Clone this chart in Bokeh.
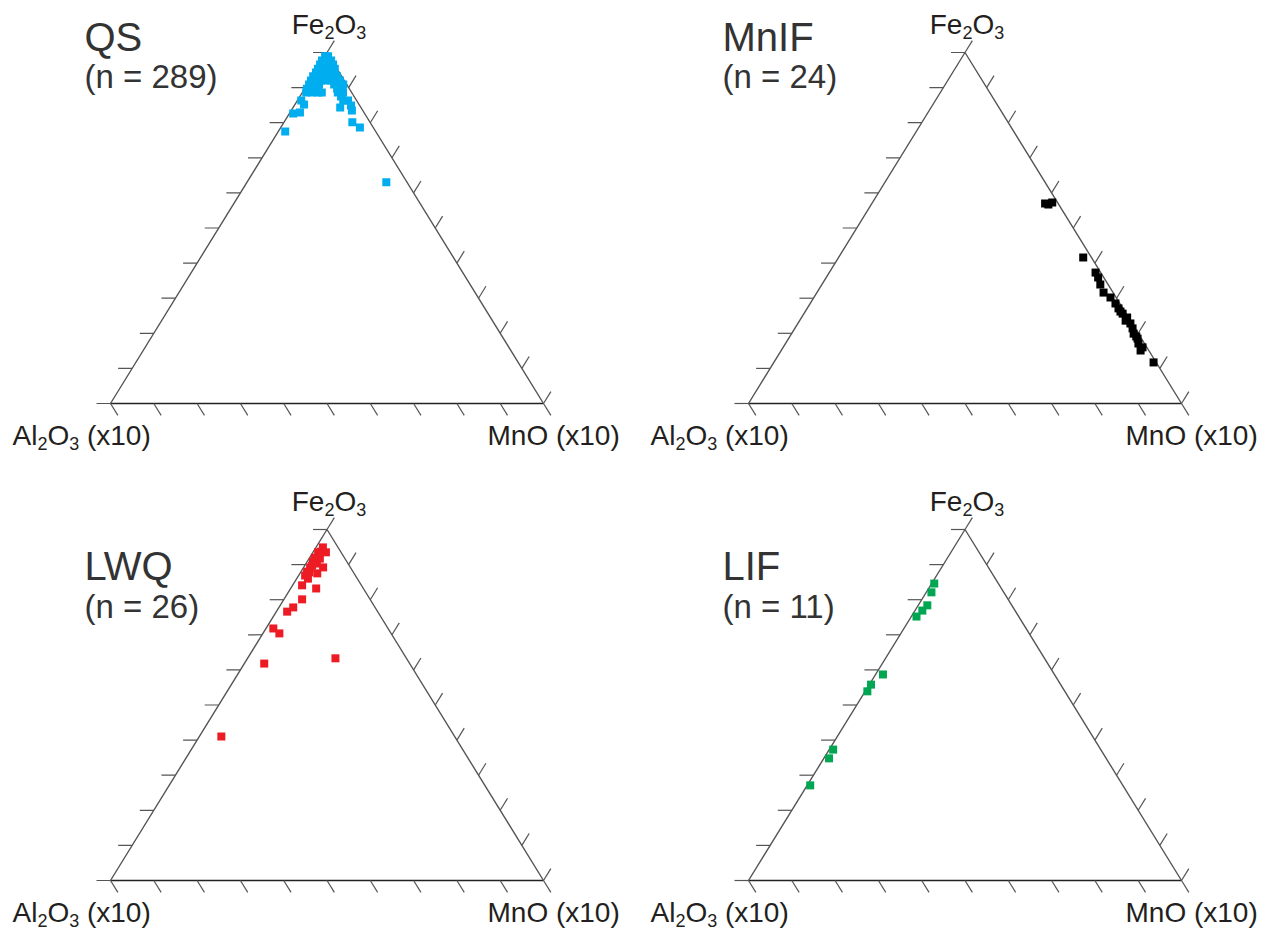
from bokeh.plotting import figure
from bokeh.models import Range1d
from bokeh.core.properties import value
from bokeh.embed import file_html
from bokeh.resources import INLINE

# ---- data: Fe2O3 % and MnO(x10) % ; Al2O3(x10) = 100 - Fe2O3 - MnO ----
qs_fe = [98.9, 98.9, 97.7, 97.7, 97.7, 96.6, 96.6, 96.6, 96.6,
         95.4, 95.4, 95.4, 95.4, 95.4, 94.3, 94.3, 94.3, 94.3, 94.3,
         93.2, 93.2, 93.2, 93.2, 93.2, 93.2,
         92.0, 92.0, 92.0, 92.0, 92.0, 92.0, 92.0,
         90.9, 90.9, 90.9, 90.9, 90.9, 90.9,
         89.7, 89.7, 89.7, 89.7, 89.7,
         88.6, 88.6, 88.6, 88.6, 88.6, 88.6,
         87.5, 86.3, 86.3, 86.3, 85.2, 84.3, 84.9, 83.5, 82.9, 82.6,
         80.1, 78.6, 77.5, 63.0]
qs_mn = [0.1, 0.8, 0.0, 1.1, 2.1, 0.1, 1.0, 2.2, 3.1,
         0.2, 1.4, 2.3, 3.2, 4.1, 0.3, 1.2, 2.4, 3.6, 4.5,
         0.2, 1.3, 2.5, 3.6, 4.8, 5.7,
         0.3, 1.5, 2.6, 3.8, 4.9, 6.1, 7.0,
         0.4, 1.6, 2.7, 6.2, 7.3, 8.3,
         0.5, 1.7, 3.1, 7.5, 8.6,
         0.9, 2.2, 3.6, 4.5, 8.2, 9.4,
         9.5, 0.9, 10.6, 11.7, 2.1, 10.9, 13.1, 14.0, 2.3, 0.9,
         15.8, 18.3, 1.6, 32.2]

mnif_fe = [57.0, 57.3, 56.7, 41.6, 37.3, 35.9, 33.9, 31.6, 30.2, 28.5, 27.1, 26.2,
           25.6, 24.5, 23.6, 22.8, 21.4, 19.9, 19.1, 18.5, 17.1, 16.0, 15.1, 11.7]
mnif_mn = [40.0, 41.5, 40.9, 56.5, 61.5, 62.8, 64.3, 66.2, 68.5, 70.5, 71.9, 72.8,
           73.6, 75.2, 75.3, 76.8, 78.0, 79.0, 80.0, 80.6, 81.5, 83.0, 83.0, 87.7]

lwq_fe = [94.9, 93.5, 92.0, 93.7, 90.9, 90.3, 89.2, 89.2, 88.0, 86.9, 86.0, 87.5, 84.1,
          83.2, 80.1, 77.8, 76.6, 71.8, 70.4, 61.8, 63.3, 41.0, 91.7, 89.7, 93.5, 87.8]
lwq_mn = [1.6, 1.2, 1.2, 1.8, 1.3, 2.5, 1.5, 4.5, 1.4, 1.5, 2.6, 4.0, 2.2,
          5.9, 4.2, 3.3, 2.5, 1.7, 3.8, 4.6, 20.3, 5.1, 2.5, 1.7, 3.0, 2.0]

lif_fe = [84.6, 82.1, 78.4, 76.9, 75.2, 58.7, 55.8, 53.9, 37.3, 34.8, 27.1]
lif_mn = [0.6, 1.2, 2.1, 1.7, 1.2, 1.7, 0.4, 0.5, 0.9, 1.2, 0.7]

groups = ["QS", "MnIF", "LWQ", "LIF"]
counts = ["(n = 289)", "(n = 24)", "(n = 26)", "(n = 11)"]
colors = ["#00AEEF", "#000000", "#ED1C24", "#00A651"]
ticks = [i / 10 for i in range(11)]

# ---- layout (page pixels) ----
W, H = 1270, 930
p = figure(width=W, height=H, x_range=Range1d(0, W), y_range=Range1d(H, 0),
           output_backend="svg", toolbar_location=None, min_border=0)
p.axis.visible = False
p.grid.visible = False
p.outline_line_color = None
p.background_fill_color = "white"

TW, TH = 433, 351          # triangle base width / height in px
origins = [(110, 403), (748, 403), (110, 880), (748, 880)]   # left vertex of each panel
title_y = [(48, 86), (48, 86), (577, 616), (577, 616)]
datasets = [(qs_fe, qs_mn), (mnif_fe, mnif_mn), (lwq_fe, lwq_mn), (lif_fe, lif_mn)]

FONT = value("Liberation Sans")
AR = {'F': .611, 'e': .556, 'A': .667, 'l': .222, 'O': .778, 'M': .833, 'n': .556,
      ' ': .278, '(': .333, 'x': .5, '1': .556, '0': .556, ')': .333, '2': .556, '3': .556}
MAIN, SUB = 28, 18
BCORR = 0.3   # baseline correction (fraction of font size)


def tw(s, size):
    return sum(AR[c] for c in s) * size


def txt(xs, ys, texts, size, color):
    p.text(x=xs, y=[y - BCORR * size for y in ys], text=texts, text_font=FONT,
           text_font_size=f"{size}px", text_color=color,
           text_baseline="alphabetic", text_align="left")


def put_label(pieces, x0, y0, color="#231F20"):
    mx, my, mt, sx, sy, st = [], [], [], [], [], []
    x = x0
    for t, sub in pieces:
        size = SUB if sub else MAIN
        lead = len(t) - len(t.lstrip(" "))
        x += tw(" " * lead, size)
        t = t.lstrip(" ")
        if sub:
            sx.append(x); sy.append(y0 + 5); st.append(t)
        else:
            mx.append(x); my.append(y0); mt.append(t)
        x += tw(t, size)
    txt(mx, my, mt, MAIN, color)
    txt(sx, sy, st, SUB, color)


def width_of(pieces):
    return sum(tw(t, SUB if s else MAIN) for t, s in pieces)


FE = [("Fe", False), ("2", True), ("O", False), ("3", True)]
AL = [("Al", False), ("2", True), ("O", False), ("3", True), (" (x10)", False)]
MN = [("MnO (x10)", False)]

TL = 14  # tick length
for k, (lx, by) in enumerate(origins):
    def xy(f, m):
        return lx + TW * (m + f / 2), by - TH * f

    ax, ay = xy(0, 0)
    rx, ry = xy(0, 1)
    tx, ty = xy(1, 0)
    p.line([ax, rx], [ay, ry], line_color="#222222", line_width=1.6)
    p.line([ax, tx, rx], [ay, ty, ry], line_color="#555555", line_width=1.4)

    ux, uy = (tx - ax), (ty - ay)
    L = (ux ** 2 + uy ** 2) ** 0.5
    ux, uy = ux / L, uy / L
    dx, dy = (rx - tx), (ry - ty)
    L2 = (dx ** 2 + dy ** 2) ** 0.5
    dx, dy = dx / L2, dy / L2
    x0, y0, x1, y1 = [], [], [], []
    for t in ticks:
        px, py = xy(t, 0)
        x0.append(px); y0.append(py); x1.append(px - TL); y1.append(py)
        px, py = xy(0, t)
        x0.append(px); y0.append(py); x1.append(px + dx * TL); y1.append(py + dy * TL)
        px, py = xy(t, 1 - t)
        x0.append(px); y0.append(py); x1.append(px + ux * TL); y1.append(py + uy * TL)
    p.segment(x0=x0, y0=y0, x1=x1, y1=y1, line_color="#555555", line_width=1.2)

    fe, mn = datasets[k]
    pxs = [lx + TW * (m / 100 + f / 200) for f, m in zip(fe, mn)]
    pys = [by - TH * f / 100 for f in fe]
    p.scatter(pxs, pys, marker="square", size=8, fill_color=colors[k], line_color=None)

    put_label(FE, tx + 2 - width_of(FE) / 2, ty - 20)
    put_label(AL, ax - 98, by + 40)
    put_label(MN, rx - 56, by + 40)

    txt([lx - 26], [title_y[k][0]], [groups[k]], 40, "#333333")
    txt([lx - 26], [title_y[k][1]], [counts[k]], 33, "#333333")

open("out.html", "w").write(file_html(p, INLINE))
